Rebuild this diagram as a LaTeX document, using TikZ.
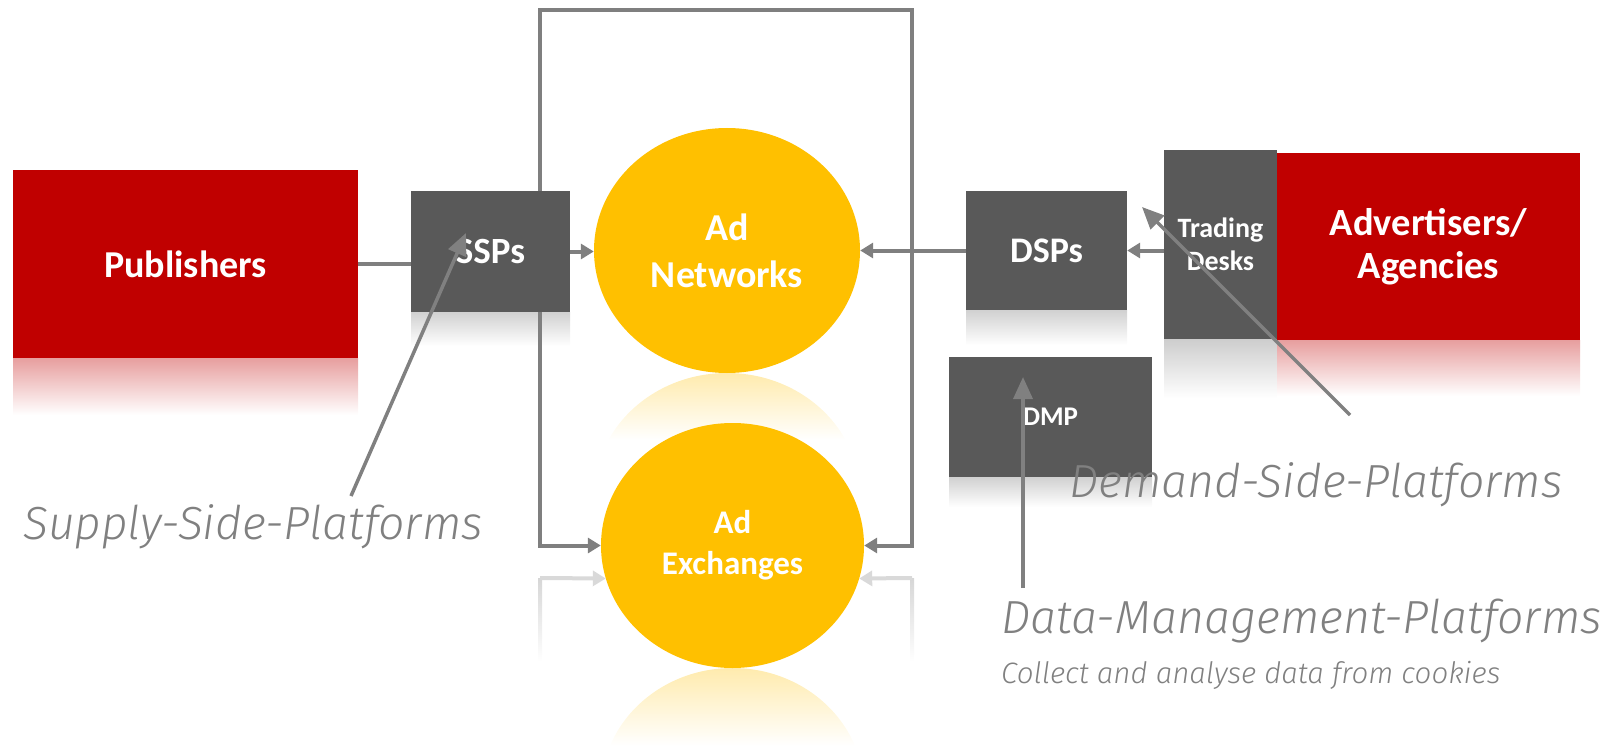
\documentclass[tikz,border=0pt]{standalone}
\usepackage{fontspec}
\setmainfont{Carlito}
\newfontfamily\notefont{Fira Sans Light Italic}
\usetikzlibrary{shapes.geometric,arrows.meta}

\definecolor{boxred}{HTML}{C00000}
\definecolor{boxgray}{HTML}{595959}
\definecolor{adyellow}{HTML}{FFC000}
\definecolor{linkgray}{HTML}{7F7F7F}
\definecolor{notegray}{HTML}{808080}

\tikzset{
  box/.style={rectangle, inner sep=0pt, text=white, align=center},
  redbox/.style={box, fill=boxred},
  graybox/.style={box, fill=boxgray},
  adcircle/.style={ellipse, inner sep=0pt, fill=adyellow, text=white, align=center},
  conn/.style={draw=linkgray, line width=4pt},
  arr/.style={conn, -{Triangle[length=13pt,width=15pt]}},
  ghostarr/.style={draw=gray!30, line width=4pt, -{Triangle[length=13pt,width=15pt]}},
  note/.style={draw=notegray, line width=3.5pt, -{Triangle[length=22pt,width=19pt]}},
  notetext/.style={inner sep=0pt, text=notegray, anchor=base west},
  notebig/.style={notetext, font=\notefont\fontsize{46.4}{52}\selectfont},
  bigtxt/.style={font=\bfseries\fontsize{38}{46}\selectfont},
}

\begin{document}
\begin{tikzpicture}[x=1pt, y=-1pt]
\path[use as bounding box] (0,0) rectangle (1603,746);

% soft reflections under the boxes
\shade[top color=boxred!38, bottom color=white] (13,358) rectangle (358,415);
\shade[top color=boxgray!28, bottom color=white] (411,312) rectangle (570,346);
\shade[top color=boxgray!28, bottom color=white] (966,310) rectangle (1127,345);
\shade[top color=boxgray!30, bottom color=white] (1164,339) rectangle (1277,398);
\shade[top color=boxred!38, bottom color=white] (1277,340) rectangle (1580,396);
\shade[top color=boxgray!28, bottom color=white] (949,477) rectangle (1152,507);

% mirrored ellipses under the circles
\begin{scope}
  \clip (727,495.5) ellipse [x radius=133, y radius=122.5];
  \shade[top color=adyellow!32, bottom color=white] (594,373) rectangle (860,440);
\end{scope}
\begin{scope}
  \clip (732.5,790.5) ellipse [x radius=131.5, y radius=122.5];
  \shade[top color=adyellow!32, bottom color=white] (601,668) rectangle (864,746);
\end{scope}

% main nodes
\node[redbox, bigtxt, minimum width=345pt, minimum height=188pt] (pub) at (185.5,264) {Publishers};
\node[graybox, font=\bfseries\fontsize{37}{44}\selectfont, minimum width=159pt, minimum height=121pt] (ssp) at (490.5,251.5) {SSPs};
\node[adcircle, font=\bfseries\fontsize{38}{47}\selectfont, minimum width=266pt, minimum height=245pt] (an) at (727,250.5) {Ad\\Networks};
\node[adcircle, font=\bfseries\fontsize{33}{41}\selectfont, minimum width=263pt, minimum height=245pt] (ax) at (732.5,545.5) {Ad\\Exchanges};
\node[graybox, font=\bfseries\fontsize{36}{44}\selectfont, minimum width=161pt, minimum height=119pt] (dsp) at (1046.5,250.5) {DSPs};
\node[graybox, font=\bfseries\fontsize{28}{33}\selectfont, minimum width=113pt, minimum height=189pt] (td) at (1220.5,244.5) {Trading\\Desks};
\node[redbox, font=\bfseries\fontsize{38.5}{43}\selectfont, minimum width=303pt, minimum height=187pt] (adv) at (1428.5,246.5) {Advertisers/\\Agencies};
\node[graybox, font=\bfseries\fontsize{27}{32}\selectfont, minimum width=203pt, minimum height=120pt] (dmp) at (1050.5,417) {DMP};

% connectors
\draw[conn] (pub.east) -- (pub.east -| ssp.west);
\draw[arr] (ssp.east) -- (ssp.east -| an.west);
\draw[arr] (dsp.west) -- (an.east);
\draw[arr] (td.west |- dsp.east) -- (dsp.east);
\coordinate (loopNW) at (540,10);
\coordinate (loopNE) at (912,10);
\draw[arr] (ssp.north -| loopNW) -- (loopNW) -- (loopNE) |- (ax.east);
\draw[arr] (ssp.south -| loopNW) |- (ax.west);

% faint mirrored arrows under the exchange connectors
\shade[top color=gray!32, bottom color=white] (538,578) rectangle (542,662);
\shade[top color=gray!32, bottom color=white] (910,578) rectangle (914,662);
\draw[ghostarr] (540,578) -- ([xshift=5pt,yshift=-33pt]ax.west);
\draw[ghostarr] (912,578) -- ([xshift=-5pt,yshift=-33pt]ax.east);

% annotations
\node[notebig] (supplbl) at (23,539) {Supply-Side-Platforms};
\node[notebig] (demlbl) at (1069,497) {Demand-Side-Platforms};
\node[notebig] (dmplbl) at (1001,633) {Data-Management-Platforms};
\node[notetext, font=\notefont\fontsize{29.5}{34}\selectfont] (dmpsub) at (1001,683) {Collect and analyse data from cookies};

\coordinate (supTail) at (351,496);
\coordinate (supTip) at (466,233);
\coordinate (demTail) at (1350,415);
\coordinate (demTip) at (1142,207);
\coordinate (dmpTail) at (1023,588);
\coordinate (dmpTip) at (1023,377);
\draw[note] (supTail) -- (supTip);
\draw[note] (demTail) -- (demTip);
\draw[note] (dmpTail) -- (dmpTip);
\end{tikzpicture}
\end{document}
